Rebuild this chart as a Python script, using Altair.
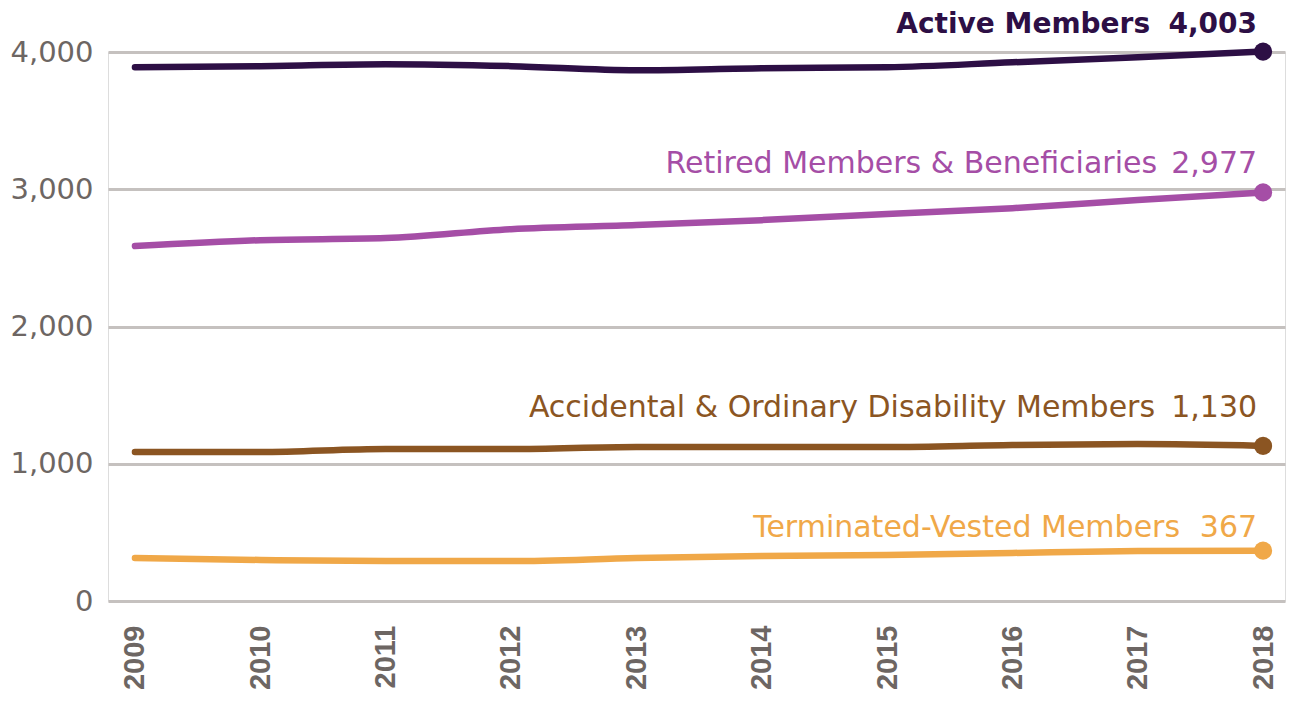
import altair as alt
import pandas as pd

years = [2009, 2010, 2011, 2012, 2013, 2014, 2015, 2016, 2017, 2018]
series_names = [
    "Active Members",
    "Retired Members & Beneficiaries",
    "Accidental & Ordinary Disability Members",
    "Terminated-Vested Members",
]
active = [3889, 3897, 3911, 3897, 3867, 3882, 3889, 3925, 3962, 4003]
retired = [2586, 2629, 2644, 2709, 2739, 2775, 2819, 2862, 2921, 2977]
disability = [1085, 1085, 1107, 1107, 1122, 1122, 1122, 1136, 1143, 1130]
terminated = [313, 299, 291, 291, 313, 328, 335, 350, 364, 367]
colors = ["#2d0f45", "#a54ea6", "#8b5522", "#f0a848"]
label_dy = [-27, -28, -38, -23]
name_dx = [-113, -106, -108, -83]
label_weight = ["bold", "normal", "normal", "normal"]
label_size = [28, 30, 30, 30]

values = [active, retired, disability, terminated]
rows = []
for name, vals in zip(series_names, values):
    for y, v in zip(years, vals):
        rows.append({"year": y, "value": v, "series": name})
df = pd.DataFrame(rows)

x_enc = alt.X(
    "year:Q",
    scale=alt.Scale(domain=[2008.785, 2018.175], nice=False, zero=False),
    axis=alt.Axis(
        values=years, format="d", labelAngle=-90, labelAlign="right",
        labelBaseline="middle", labelFontSize=29, labelFont="Liberation Sans",
        labelFontWeight="bold", labelColor="#6d6663", labelPadding=24,
        ticks=False, domain=False, grid=False, title=None,
    ),
)
y_enc = alt.Y(
    "value:Q",
    scale=alt.Scale(domain=[0, 4000], nice=False),
    axis=alt.Axis(
        values=[0, 1000, 2000, 3000, 4000], format=",d", labelFontSize=29,
        labelFont="DejaVu Sans", labelColor="#6d6663", labelPadding=15,
        ticks=False, domain=False, grid=True, gridColor="#c5c1bf",
        gridWidth=3, title=None,
    ),
)

color_enc = alt.Color(
    "series:N", scale=alt.Scale(domain=series_names, range=colors), legend=None
)

lines = alt.Chart(df).mark_line(
    strokeWidth=6.5, interpolate="monotone", strokeCap="round"
).encode(x=x_enc, y=y_enc, color=color_enc, detail="series:N")

last = df[df["year"] == 2018].copy()
last["value_label"] = last["value"].map(lambda v: f"{v:,}")
points = alt.Chart(last).mark_circle(size=330, opacity=1).encode(
    x=x_enc, y=y_enc, color=color_enc
)

texts = []
for name, col, dy, ndx, w, fs in zip(series_names, colors, label_dy, name_dx,
                                     label_weight, label_size):
    sub = last[last["series"] == name]
    base = alt.Chart(sub)
    t_name = base.mark_text(
        align="right", baseline="middle", dx=ndx, dy=dy, fontSize=fs,
        font="DejaVu Sans", fontWeight=w, color=col,
    ).encode(x=x_enc, y=y_enc, text="series:N")
    t_val = base.mark_text(
        align="right", baseline="middle", dx=-6, dy=dy, fontSize=fs,
        font="DejaVu Sans", fontWeight=w, color=col,
    ).encode(x=x_enc, y=y_enc, text="value_label:N")
    texts.extend([t_name, t_val])

chart = alt.layer(lines, points, *texts).properties(
    width=1177, height=549,
    autosize=alt.AutoSizeParams(type="none"),
    padding={"left": 100, "top": 44, "right": 3, "bottom": 90},
).configure_view(stroke=None).configure(background="white")

chart.save("out.html", embed_options={"renderer": "svg", "actions": False})
